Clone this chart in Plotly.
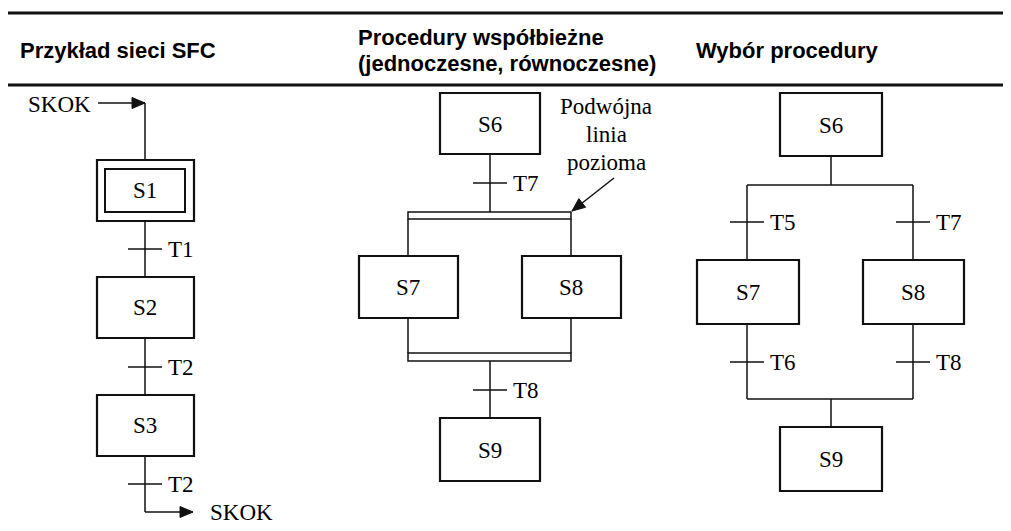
import math
import plotly.graph_objects as go

# ---------------- content (labels) ----------------
headers = ["Przykład sieci SFC", "Procedury współbieżne", "(jednoczesne, równoczesne)", "Wybór procedury"]
seq_steps = ["S1", "S2", "S3"]
seq_trans = ["T1", "T2", "T2"]
jump_label = "SKOK"
par_steps = ["S6", "S7", "S8", "S9"]
par_trans = ["T7", "T8"]
par_note = ["Podwójna", "linia", "pozioma"]
sel_steps = ["S6", "S7", "S8", "S9"]
sel_trans = ["T5", "T7", "T6", "T8"]

# ---------------- drawing helpers ----------------
W, H = 1011, 531
PAGE_MARGIN = 8          # default <body> margin of the written page
INK = "#111111"
SERIF = "Liberation Serif, Times New Roman, serif"
SANS = "Liberation Sans, Arial, sans-serif"
FS = 23

shapes = []
annotations = []


def rect(x0, y0, x1, y1, w=2.2):
    shapes.append(dict(type="rect", x0=x0, y0=y0, x1=x1, y1=y1,
                       line=dict(color=INK, width=w), fillcolor="rgba(0,0,0,0)"))


def line(x0, y0, x1, y1, w=1.5):
    shapes.append(dict(type="line", x0=x0, y0=y0, x1=x1, y1=y1,
                       line=dict(color=INK, width=w)))


def head(tx, ty, fx, fy, length=13, half=5.5):
    dx, dy = tx - fx, ty - fy
    L = math.hypot(dx, dy)
    ux, uy = dx / L, dy / L
    bx, by = tx - length * ux, ty - length * uy
    nx, ny = -uy, ux
    p = (f"M {tx},{ty} L {bx + half * nx},{by + half * ny} "
         f"L {bx - half * nx},{by - half * ny} Z")
    shapes.append(dict(type="path", path=p, fillcolor=INK,
                       line=dict(color=INK, width=1)))


def arrow(fx, fy, tx, ty, w=1.5):
    line(fx, fy, tx, ty, w)
    head(tx, ty, fx, fy)


def text(x, y, s, xa="center", size=FS, font=SERIF, bold=False):
    if bold:
        s = f"<b>{s}</b>"
    annotations.append(dict(x=x, y=y, text=s, showarrow=False, xanchor=xa,
                            yanchor="middle", borderpad=0,
                            font=dict(family=font, size=size, color="#000")))


def tick(x, y, lab, half=17):
    line(x - half, y, x + half, y, 1.5)
    text(x + half + 5, y, lab, xa="left")


# ---------------- rules and headers ----------------
line(5, 13, W + 5, 13, 3)
line(5, 85, W + 5, 85, 3)
text(19, 50, headers[0], xa="left", size=22, font=SANS, bold=True)
text(357, 37, headers[1], xa="left", size=22, font=SANS, bold=True)
text(357, 63, headers[2], xa="left", size=22, font=SANS, bold=True)
text(695, 50, headers[3], xa="left", size=22, font=SANS, bold=True)

# ---------------- left: sequential SFC ----------------
cx = 145
text(59, 104, jump_label)
arrow(98, 103, cx, 103)
line(cx, 103, cx, 160)
box_y = [(160, 221), (277, 338), (395, 456)]
tick_y = [249, 367, 484]
for i, (y0, y1) in enumerate(box_y):
    rect(97, y0, 194, y1)
    text(cx, (y0 + y1) / 2, seq_steps[i])
rect(105, 169, 185, 212, 2)
for i in range(3):
    y_from = box_y[i][1]
    y_to = box_y[i + 1][0] if i + 1 < len(box_y) else 512
    line(cx, y_from, cx, y_to)
    tick(cx, tick_y[i], seq_trans[i])
arrow(cx, 512, 193, 512)
text(209, 512, jump_label, xa="left")

# ---------------- middle: parallel branches ----------------
mx = 490
rect(440, 93, 540, 154)
text(mx, 124, par_steps[0])
line(mx, 154, mx, 212)
tick(mx, 183, par_trans[0])
rect(408, 212, 571, 219, 1.5)
for bx in (408, 571):
    line(bx, 219, bx, 256)
    line(bx, 318, bx, 353)
rect(359, 256, 458, 318)
text(408, 287, par_steps[1])
rect(522, 256, 621, 318)
text(571, 287, par_steps[2])
rect(408, 353, 571, 361, 1.5)
line(mx, 361, mx, 418)
tick(mx, 390, par_trans[1])
rect(440, 418, 540, 481)
text(mx, 450, par_steps[3])
for i, s in enumerate(par_note):
    text(606, 106 + 28 * i, s)
arrow(614, 178, 572, 211)

# ---------------- right: selective branches ----------------
rx = 831
rect(780, 93, 882, 156)
text(rx, 125, sel_steps[0])
line(rx, 156, rx, 185)
line(747, 185, 913, 185)
for bx in (747, 913):
    line(bx, 185, bx, 260)
    line(bx, 324, bx, 399)
tick(747, 222, sel_trans[0])
tick(913, 222, sel_trans[1])
rect(697, 260, 799, 324)
text(748, 292, sel_steps[1])
rect(863, 260, 964, 324)
text(913, 292, sel_steps[2])
tick(747, 362, sel_trans[2])
tick(913, 362, sel_trans[3])
line(747, 399, 913, 399)
line(rx, 399, rx, 427)
rect(780, 427, 882, 491)
text(rx, 459, sel_steps[3])

fig = go.Figure()
fig.update_layout(
    width=W - PAGE_MARGIN, height=H - PAGE_MARGIN,
    margin=dict(l=0, r=0, t=0, b=0),
    paper_bgcolor="white", plot_bgcolor="white",
    xaxis=dict(range=[PAGE_MARGIN, W], visible=False, fixedrange=True),
    yaxis=dict(range=[H, PAGE_MARGIN], visible=False, fixedrange=True),
    shapes=shapes, annotations=annotations, showlegend=False,
)
fig.write_html("out.html")
